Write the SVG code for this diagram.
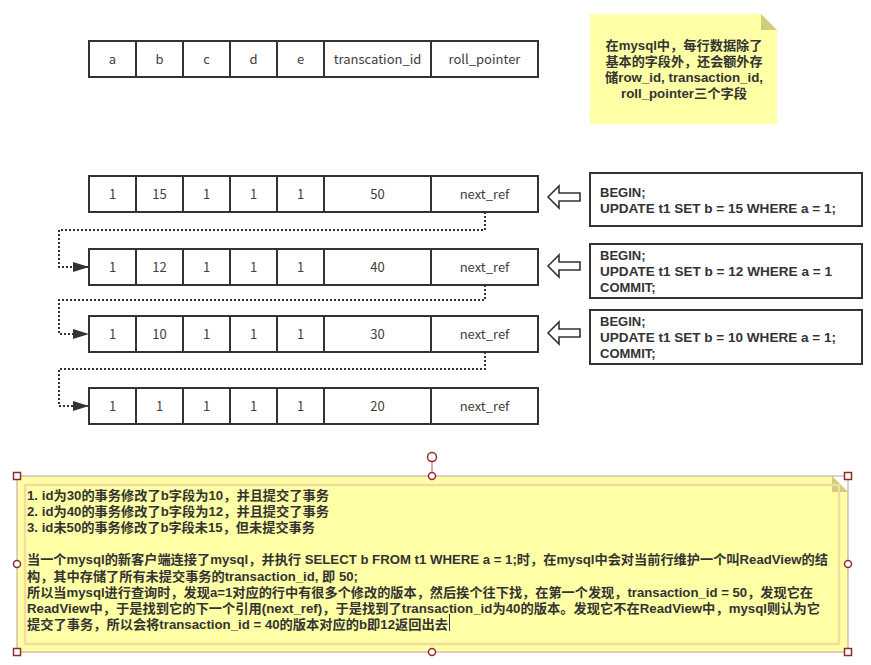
<svg xmlns="http://www.w3.org/2000/svg" width="871" height="665" viewBox="0 0 871 665">
<style>
.cell{fill:#ffffff;stroke:#333333;stroke-width:2}
.ct{font-family:"Noto Sans CJK SC","Noto Sans",sans-serif;font-size:13px;fill:#404040;text-anchor:middle}
.bx{fill:#ffffff;stroke:#333333;stroke-width:2}
.bt{font-family:"Liberation Sans","Noto Sans CJK SC",sans-serif;font-size:13px;font-weight:bold;fill:#333333}
.nt{font-family:"Liberation Sans","Noto Sans CJK SC",sans-serif;font-size:13px;font-weight:bold;fill:#333333}
.dot{fill:none;stroke:#333333;stroke-width:2;stroke-dasharray:2 2}
.harrow{fill:#ffffff;stroke:#333333;stroke-width:1.6;stroke-linejoin:miter}
.note{fill:#ffffa6}
.fold{fill:#cdcd7c}
.hsq{fill:#ffffff;stroke:#8b2e2e;stroke-width:1.5}
</style>
<defs>
<marker id="tri" markerWidth="16" markerHeight="12" refX="16" refY="6" orient="auto" markerUnits="userSpaceOnUse">
<path d="M0,1 L16,6 L0,11 Z" fill="#333333"/>
</marker>
</defs>

<g id="header">
<rect class="cell" x="89" y="41" width="47" height="36"/>
<rect class="cell" x="136" y="41" width="47" height="36"/>
<rect class="cell" x="183" y="41" width="47" height="36"/>
<rect class="cell" x="230" y="41" width="47" height="36"/>
<rect class="cell" x="277" y="41" width="47" height="36"/>
<rect class="cell" x="324" y="41" width="107" height="36"/>
<rect class="cell" x="431" y="41" width="107" height="36"/>
<text class="ct" x="112.5" y="63.5">a</text>
<text class="ct" x="159.5" y="63.5">b</text>
<text class="ct" x="206.5" y="63.5">c</text>
<text class="ct" x="253.5" y="63.5">d</text>
<text class="ct" x="300.5" y="63.5">e</text>
<text class="ct" x="377.5" y="63.5">transcation_id</text>
<text class="ct" x="484.5" y="63.5">roll_pointer</text>
</g>

<g id="row1">
<rect class="cell" x="89" y="176" width="47" height="36"/>
<rect class="cell" x="136" y="176" width="47" height="36"/>
<rect class="cell" x="183" y="176" width="47" height="36"/>
<rect class="cell" x="230" y="176" width="47" height="36"/>
<rect class="cell" x="277" y="176" width="47" height="36"/>
<rect class="cell" x="324" y="176" width="107" height="36"/>
<rect class="cell" x="431" y="176" width="107" height="36"/>
<text class="ct" x="112.5" y="198.5">1</text>
<text class="ct" x="159.5" y="198.5">15</text>
<text class="ct" x="206.5" y="198.5">1</text>
<text class="ct" x="253.5" y="198.5">1</text>
<text class="ct" x="300.5" y="198.5">1</text>
<text class="ct" x="377.5" y="198.5">50</text>
<text class="ct" x="484.5" y="198.5">next_ref</text>
</g>

<g id="row2">
<rect class="cell" x="89" y="249" width="47" height="36"/>
<rect class="cell" x="136" y="249" width="47" height="36"/>
<rect class="cell" x="183" y="249" width="47" height="36"/>
<rect class="cell" x="230" y="249" width="47" height="36"/>
<rect class="cell" x="277" y="249" width="47" height="36"/>
<rect class="cell" x="324" y="249" width="107" height="36"/>
<rect class="cell" x="431" y="249" width="107" height="36"/>
<text class="ct" x="112.5" y="271.5">1</text>
<text class="ct" x="159.5" y="271.5">12</text>
<text class="ct" x="206.5" y="271.5">1</text>
<text class="ct" x="253.5" y="271.5">1</text>
<text class="ct" x="300.5" y="271.5">1</text>
<text class="ct" x="377.5" y="271.5">40</text>
<text class="ct" x="484.5" y="271.5">next_ref</text>
</g>

<g id="row3">
<rect class="cell" x="89" y="316" width="47" height="36"/>
<rect class="cell" x="136" y="316" width="47" height="36"/>
<rect class="cell" x="183" y="316" width="47" height="36"/>
<rect class="cell" x="230" y="316" width="47" height="36"/>
<rect class="cell" x="277" y="316" width="47" height="36"/>
<rect class="cell" x="324" y="316" width="107" height="36"/>
<rect class="cell" x="431" y="316" width="107" height="36"/>
<text class="ct" x="112.5" y="338.5">1</text>
<text class="ct" x="159.5" y="338.5">10</text>
<text class="ct" x="206.5" y="338.5">1</text>
<text class="ct" x="253.5" y="338.5">1</text>
<text class="ct" x="300.5" y="338.5">1</text>
<text class="ct" x="377.5" y="338.5">30</text>
<text class="ct" x="484.5" y="338.5">next_ref</text>
</g>

<g id="row4">
<rect class="cell" x="89" y="388" width="47" height="36"/>
<rect class="cell" x="136" y="388" width="47" height="36"/>
<rect class="cell" x="183" y="388" width="47" height="36"/>
<rect class="cell" x="230" y="388" width="47" height="36"/>
<rect class="cell" x="277" y="388" width="47" height="36"/>
<rect class="cell" x="324" y="388" width="107" height="36"/>
<rect class="cell" x="431" y="388" width="107" height="36"/>
<text class="ct" x="112.5" y="410.5">1</text>
<text class="ct" x="159.5" y="410.5">1</text>
<text class="ct" x="206.5" y="410.5">1</text>
<text class="ct" x="253.5" y="410.5">1</text>
<text class="ct" x="300.5" y="410.5">1</text>
<text class="ct" x="377.5" y="410.5">20</text>
<text class="ct" x="484.5" y="410.5">next_ref</text>
</g>

<g id="tx1">
<rect class="bx" x="590" y="173" width="272" height="53"/>
<text class="bt" x="600" y="196.5">BEGIN;</text>
<text class="bt" x="600" y="212.5" textLength="236" lengthAdjust="spacingAndGlyphs">UPDATE t1 SET b = 15 WHERE a = 1;</text>
</g>
<g id="tx2">
<rect class="bx" x="590" y="244" width="272" height="54"/>
<text class="bt" x="600" y="259.5">BEGIN;</text>
<text class="bt" x="600" y="275.5" textLength="232" lengthAdjust="spacingAndGlyphs">UPDATE t1 SET b = 12 WHERE a = 1</text>
<text class="bt" x="600" y="291.5">COMMIT;</text>
</g>
<g id="tx3">
<rect class="bx" x="590" y="310" width="272" height="54"/>
<text class="bt" x="600" y="325.5">BEGIN;</text>
<text class="bt" x="600" y="341.5" textLength="236" lengthAdjust="spacingAndGlyphs">UPDATE t1 SET b = 10 WHERE a = 1;</text>
<text class="bt" x="600" y="357.5">COMMIT;</text>
</g>

<g id="note-top">
<path class="note" d="M590,14 L761,14 L777,30 L777,124 L590,124 Z"/>
<path class="fold" d="M761,14 L777,30 L761,30 Z"/>
<text class="nt" x="684" y="49.5" text-anchor="middle" textLength="157" lengthAdjust="spacingAndGlyphs">在mysql中，每行数据除了</text>
<text class="nt" x="684" y="66" text-anchor="middle" textLength="157" lengthAdjust="spacingAndGlyphs">基本的字段外，还会额外存</text>
<text class="nt" x="684" y="82" text-anchor="middle" textLength="158" lengthAdjust="spacingAndGlyphs">储row_id, transaction_id,</text>
<text class="nt" x="684" y="98" text-anchor="middle" textLength="126" lengthAdjust="spacingAndGlyphs">roll_pointer三个字段</text>
</g>

<g id="connectors">
<path class="dot" d="M485,212 V230 H59 V267 H89" marker-end="url(#tri)"/>
<path class="dot" d="M485,285 V300 H59 V334 H89" marker-end="url(#tri)"/>
<path class="dot" d="M485,352 V369 H59 V406 H89" marker-end="url(#tri)"/>
<path class="harrow" d="M548,197 L559,186 L559,193 L580,193 L580,201 L559,201 L559,208 Z"/>
<path class="harrow" d="M548,266 L559,255 L559,262 L580,262 L580,270 L559,270 L559,277 Z"/>
<path class="harrow" d="M548,333 L559,322 L559,329 L580,329 L580,337 L559,337 L559,344 Z"/>
</g>

<g id="note-bottom">
<path class="note" d="M17,476 L832,476 L848,492 L848,652 L17,652 Z"/>
<path class="fold" d="M832,476 L848,492 L832,492 Z"/>
<rect x="25" y="485" width="814" height="159" fill="none" stroke="#f5d9a2" stroke-width="2.5"/>
<text class="nt" x="27" y="499.5" textLength="302" lengthAdjust="spacingAndGlyphs">1. id为30的事务修改了b字段为10，并且提交了事务</text>
<text class="nt" x="27" y="515.7" textLength="302" lengthAdjust="spacingAndGlyphs">2. id为40的事务修改了b字段为12，并且提交了事务</text>
<text class="nt" x="27" y="531.9" textLength="288" lengthAdjust="spacingAndGlyphs">3. id未50的事务修改了b字段未15，但未提交事务</text>
<text class="nt" x="27" y="564.3" textLength="801" lengthAdjust="spacingAndGlyphs">当一个mysql的新客户端连接了mysql，并执行 SELECT b FROM t1 WHERE a = 1;时，在mysql中会对当前行维护一个叫ReadView的结</text>
<text class="nt" x="27" y="580.5" textLength="331" lengthAdjust="spacingAndGlyphs">构，其中存储了所有未提交事务的transaction_id, 即 50;</text>
<text class="nt" x="27" y="596.7" textLength="786" lengthAdjust="spacingAndGlyphs">所以当mysql进行查询时，发现a=1对应的行中有很多个修改的版本，然后挨个往下找，在第一个发现，transaction_id = 50，发现它在</text>
<text class="nt" x="27" y="612.9" textLength="793" lengthAdjust="spacingAndGlyphs">ReadView中，于是找到它的下一个引用(next_ref)，于是找到了transaction_id为40的版本。发现它不在ReadView中，mysql则认为它</text>
<text class="nt" x="27" y="629.1" textLength="421" lengthAdjust="spacingAndGlyphs">提交了事务，所以会将transaction_id = 40的版本对应的b即12返回出去</text>
<line x1="449.5" y1="614" x2="449.5" y2="631" stroke="#333333" stroke-width="1"/>
</g>

<g id="selection">
<rect x="17" y="476" width="831" height="176" fill="none" stroke="#c8999a" stroke-width="1"/>
<line x1="432" y1="462" x2="432" y2="476" stroke="#b06060" stroke-width="1"/>
<circle class="hsq" cx="432" cy="457" r="4.5"/>
<rect class="hsq" x="13.5" y="472.5" width="7" height="7"/>
<rect class="hsq" x="844.5" y="472.5" width="7" height="7"/>
<rect class="hsq" x="13.5" y="648.5" width="7" height="7"/>
<rect class="hsq" x="844.5" y="648.5" width="7" height="7"/>
<circle class="hsq" cx="432" cy="476" r="3.5"/>
<circle class="hsq" cx="432" cy="652" r="3.5"/>
<circle class="hsq" cx="17" cy="564" r="3.5"/>
<circle class="hsq" cx="848" cy="564" r="3.5"/>
</g>
</svg>
